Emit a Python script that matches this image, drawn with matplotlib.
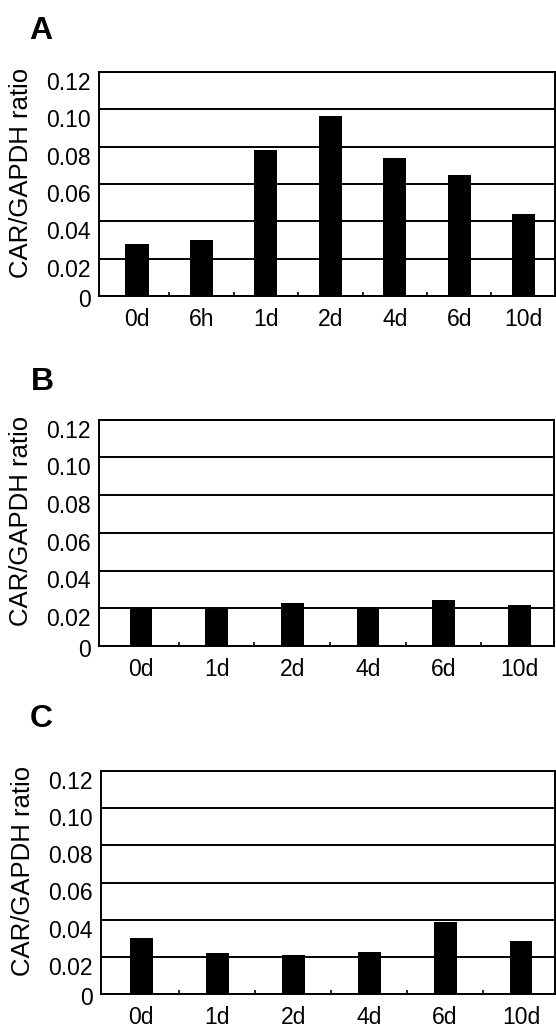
import matplotlib
matplotlib.use("Agg")
import matplotlib.pyplot as plt
import matplotlib.transforms as mtransforms
import numpy as np

plt.rcParams['font.family'] = ['Liberation Sans', 'DejaVu Sans']

# CAR/GAPDH ratio
labels_a = ["0d", "6h", "1d", "2d", "4d", "6d", "10d"]
ratio_a = [0.028, 0.030, 0.078, 0.0965, 0.074, 0.065, 0.0437]

labels_b = ["0d", "1d", "2d", "4d", "6d", "10d"]
ratio_b = [0.020, 0.0198, 0.0226, 0.0206, 0.0244, 0.0215]

labels_c = ["0d", "1d", "2d", "4d", "6d", "10d"]
ratio_c = [0.030, 0.0221, 0.0212, 0.0225, 0.0385, 0.0287]

yticks = [0, 0.02, 0.04, 0.06, 0.08, 0.10, 0.12]
ytick_labels = ["0", "0.02", "0.04", "0.06", "0.08", "0.10", "0.12"]

W, H = 556, 1029
fig = plt.figure(figsize=(W / 100, H / 100), dpi=100)


def px_rect(left, right, top, bottom):
    return [left / W, 1 - bottom / H, (right - left) / W, (bottom - top) / H]


def panel(rect, letter, letter_pos, cats, vals, width, xlim):
    ax = fig.add_axes(rect)
    x = np.arange(len(cats))
    ax.bar(x, vals, width=width, color="black", zorder=3)
    ax.set_xlim(*xlim)
    ax.set_ylim(0, 0.12)
    ax.set_yticks(yticks)
    ax.set_yticklabels(ytick_labels)
    ax.yaxis.grid(True, color="black", lw=1.4)
    ax.set_axisbelow(True)
    ax.set_xticks(x)
    ax.set_xticklabels(cats)
    ax.set_xticks(x[:-1] + 0.5, minor=True)
    ax.tick_params(axis="x", which="major", length=0, pad=9, labelsize=16.5)
    ax.tick_params(axis="x", which="minor", direction="in", length=3, width=1.2)
    ax.tick_params(axis="y", length=0, pad=6, labelsize=16.5)
    for s in ax.spines.values():
        s.set_linewidth(1.4)
    # scanned original has the y labels sitting a bit below their lines
    for i, lab in enumerate(ax.get_yticklabels()):
        dy = -2 if i == 0 else -9
        off = mtransforms.ScaledTranslation(0, dy / 100, fig.dpi_scale_trans)
        lab.set_transform(lab.get_transform() + off)
    ax.set_ylabel("CAR/GAPDH ratio", fontsize=18.5, va="center")
    ax.yaxis.set_label_coords(-0.171, 0.55)
    fig.text(letter_pos[0] / W, 1 - letter_pos[1] / H, letter,
             fontsize=23, fontweight="bold", va="baseline", ha="left")
    return ax


panel(px_rect(99, 554.5, 72, 296), "A", (29, 39), labels_a, ratio_a, 0.36, (-0.59, 6.48))
panel(px_rect(99, 554, 419.5, 646), "B", (31, 390), labels_b, ratio_b, 0.30, (-0.556, 5.46))
panel(px_rect(101, 554.5, 771, 994), "C", (30, 727), labels_c, ratio_c, 0.30, (-0.53, 5.44))

fig.savefig("out.png", dpi=100)
